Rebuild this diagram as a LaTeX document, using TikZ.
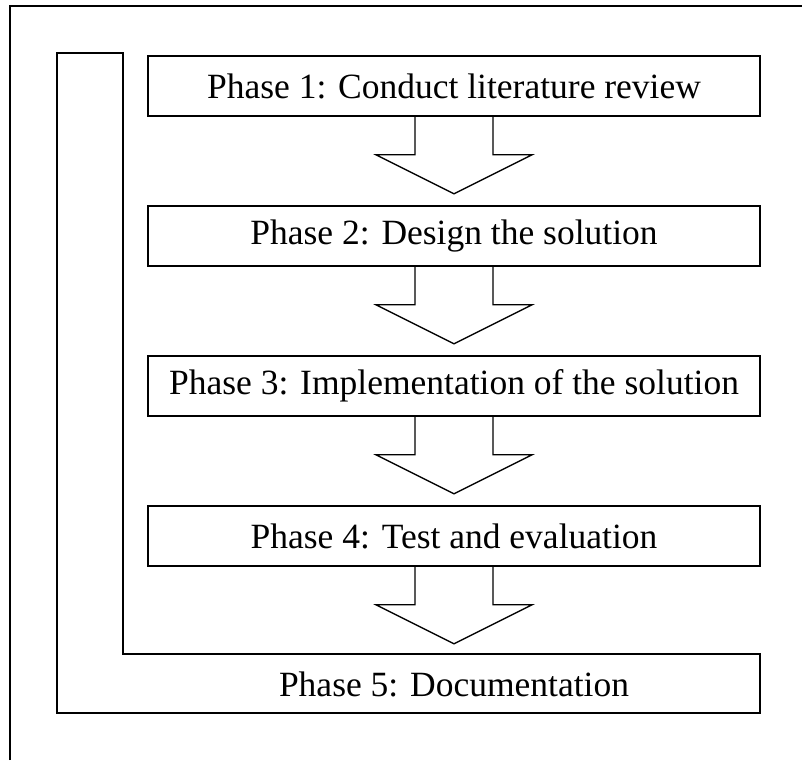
\documentclass[tikz,border=0pt]{standalone}
\usepackage{fontspec}
\setmainfont{Liberation Serif}
\usetikzlibrary{calc}
\begin{document}
\begin{tikzpicture}[x=1pt,y=-1pt,
  line join=miter,
  frame/.style={line width=1.6pt},
  phasebox/.style={draw,line width=1.6pt,minimum width=612pt,minimum height=60pt,
    inner sep=0pt,font=\fontsize{35.5}{40}\selectfont},
  phasetext/.style={inner sep=0pt,font=\fontsize{35.5}{40}\selectfont},
  flowarrow/.style={line width=1.3pt}]
\useasboundingbox (0,0) rectangle (802,760);
% outer frame (open at right and bottom)
\draw[frame] (10,760) -- (10,6) -- (802,6);
% phase 5 bracket: vertical strip joined to the bottom bar
\draw[frame] (57,53) -- (123,53) -- (123,654) -- (760,654) -- (760,713) -- (57,713) -- cycle;
\node[phasetext] (p5) at (454,684) {Phase 5: Documentation};
% phase boxes
\node[phasebox] (p1) at (454,86)  {Phase 1: Conduct literature review};
\node[phasebox] (p2) at (454,236) {Phase 2: Design the solution};
\node[phasebox] (p3) at (454,386) {Phase 3: Implementation of the solution};
\node[phasebox] (p4) at (454,536) {Phase 4: Test and evaluation};
% block arrows between phases
\foreach \b in {p1,p2,p3,p4}{
  \draw[flowarrow] ($(\b.south)+(-39,0)$) -- ($(\b.south)+(-39,38)$)
    -- ($(\b.south)+(-78,38)$) -- ($(\b.south)+(0,77)$)
    -- ($(\b.south)+(78,38)$) -- ($(\b.south)+(39,38)$)
    -- ($(\b.south)+(39,0)$);
}
\end{tikzpicture}
\end{document}
